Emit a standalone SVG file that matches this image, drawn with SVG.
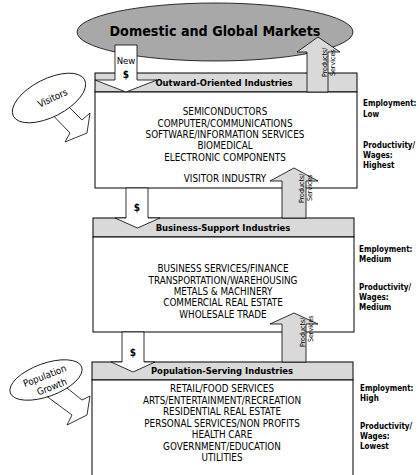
<svg xmlns="http://www.w3.org/2000/svg" width="420" height="475" viewBox="0 0 420 475">
<style>
text{font-family:"DejaVu Sans Condensed","DejaVu Sans",sans-serif;font-stretch:condensed;fill:#000}
.body{font-size:9.8px;text-anchor:middle}
.hdr{font-size:9.4px;font-weight:bold;text-anchor:middle}
.side{font-size:8px;font-weight:bold}
.ps{font-size:7px}
.dol{font-size:10px;font-weight:bold;text-anchor:middle}
.oval{font-size:9.6px;text-anchor:middle}
.band{fill:#d9d9d9;stroke:#000;stroke-width:1}
.box{fill:#fff;stroke:#000;stroke-width:1}
.down{fill:#fff;stroke:#000;stroke-width:0.8}
.up{fill:#d9d9d9;stroke:#000;stroke-width:0.8}
.src{fill:#fff;stroke:#000;stroke-width:0.8}
</style>
<rect width="420" height="475" fill="#fff"/>

<g id="markets">
<ellipse cx="215" cy="32" rx="138" ry="29" fill="#a8a8a8" stroke="#000" stroke-width="0.8"/>
<text x="215" y="36" style="font-size:14.2px;font-weight:bold;text-anchor:middle">Domestic and Global Markets</text>
</g>

<g id="outward">
<rect class="band" x="95" y="73" width="262" height="19"/>
<rect class="box" x="95" y="92" width="262" height="96"/>
<text class="hdr" x="224" y="86">Outward-Oriented Industries</text>
<text class="body" x="225" y="115">SEMICONDUCTORS</text>
<text class="body" x="225" y="126.5">COMPUTER/COMMUNICATIONS</text>
<text class="body" x="225" y="137.5">SOFTWARE/INFORMATION SERVICES</text>
<text class="body" x="225" y="149">BIOMEDICAL</text>
<text class="body" x="225" y="160.5">ELECTRONIC COMPONENTS</text>
<text class="body" x="225" y="182">VISITOR INDUSTRY</text>
<text class="side" x="363" y="106">Employment:</text>
<text class="side" x="363" y="117">Low</text>
<text class="side" x="363" y="148">Productivity/</text>
<text class="side" x="363" y="158">Wages:</text>
<text class="side" x="363" y="168">Highest</text>
</g>

<g id="business">
<rect class="band" x="93" y="218" width="261" height="19"/>
<rect class="box" x="93" y="237" width="261" height="95"/>
<text class="hdr" x="223" y="231">Business-Support Industries</text>
<text class="body" x="223" y="272">BUSINESS SERVICES/FINANCE</text>
<text class="body" x="223" y="283.5">TRANSPORTATION/WAREHOUSING</text>
<text class="body" x="223" y="294.5">METALS &amp; MACHINERY</text>
<text class="body" x="223" y="306">COMMERCIAL REAL ESTATE</text>
<text class="body" x="223" y="317.5">WHOLESALE TRADE</text>
<text class="side" x="359" y="252">Employment:</text>
<text class="side" x="359" y="262">Medium</text>
<text class="side" x="359" y="290">Productivity/</text>
<text class="side" x="359" y="300">Wages:</text>
<text class="side" x="359" y="310">Medium</text>
</g>

<g id="population">
<rect class="band" x="92" y="362" width="261" height="18"/>
<rect class="box" x="92" y="380" width="261" height="100"/>
<text class="hdr" x="222" y="374">Population-Serving Industries</text>
<text class="body" x="222" y="392">RETAIL/FOOD SERVICES</text>
<text class="body" x="222" y="404">ARTS/ENTERTAINMENT/RECREATION</text>
<text class="body" x="222" y="415">RESIDENTIAL REAL ESTATE</text>
<text class="body" x="222" y="427">PERSONAL SERVICES/NON PROFITS</text>
<text class="body" x="222" y="438">HEALTH CARE</text>
<text class="body" x="222" y="450">GOVERNMENT/EDUCATION</text>
<text class="body" x="222" y="461">UTILITIES</text>
<text class="side" x="360" y="391">Employment:</text>
<text class="side" x="360" y="401">High</text>
<text class="side" x="360" y="429">Productivity/</text>
<text class="side" x="360" y="439">Wages:</text>
<text class="side" x="360" y="449">Lowest</text>
</g>

<g id="connectors">
<polygon class="down" points="115,45 137,45 137,80 157,80 126,92 95,80 115,80"/>
<text class="oval" x="126" y="64" style="font-size:9.5px">New</text>
<text class="dol" x="126" y="78">$</text>

<polygon class="up" points="307,92 307,52 297,52 318,37 340,52 328,52 328,92"/>
<text class="ps" transform="translate(326.5,77) rotate(-90)">Products/</text>
<text class="ps" transform="translate(334.5,76) rotate(-90)">Services</text>

<polygon class="down" points="126,188 148,188 148,218 160,218 137.5,228 115,218 126,218"/>
<text class="dol" x="137" y="211">$</text>

<polygon class="up" points="282,218 282,181 270,181 294,168 318,181 306,181 306,218"/>
<text class="ps" transform="translate(304,203) rotate(-90)">Products/</text>
<text class="ps" transform="translate(312,201) rotate(-90)">Services</text>

<polygon class="down" points="122,332 144,332 144,362 155,362 133,372 111,362 122,362"/>
<text class="dol" x="133" y="356">$</text>

<polygon class="up" points="282,362 282,324 270,324 294,313 318,324 306,324 306,362"/>
<text class="ps" transform="translate(305,347) rotate(-90)">Products/</text>
<text class="ps" transform="translate(313,342) rotate(-90)">Services</text>

<polygon class="src" points="58,96 82,120 90,113 87,133 65,142 70,133 43,105"/>
<polygon class="src" points="62,384 82,400 90,396 87,415 67,425 72,415 45,395"/>
</g>

<g id="visitors">
<ellipse cx="49" cy="98" rx="40" ry="19" transform="rotate(-27 49 98)" class="src"/>
<text class="oval" transform="translate(54,101) rotate(-25)">Visitors</text>
</g>

<g id="popgrowth">
<ellipse cx="46" cy="380" rx="38" ry="16.5" transform="rotate(-20 46 380)" class="src"/>
<text class="oval" transform="translate(46,379) rotate(-21)">Population</text>
<text class="oval" transform="translate(53,390) rotate(-21)">Growth</text>
</g>
</svg>
